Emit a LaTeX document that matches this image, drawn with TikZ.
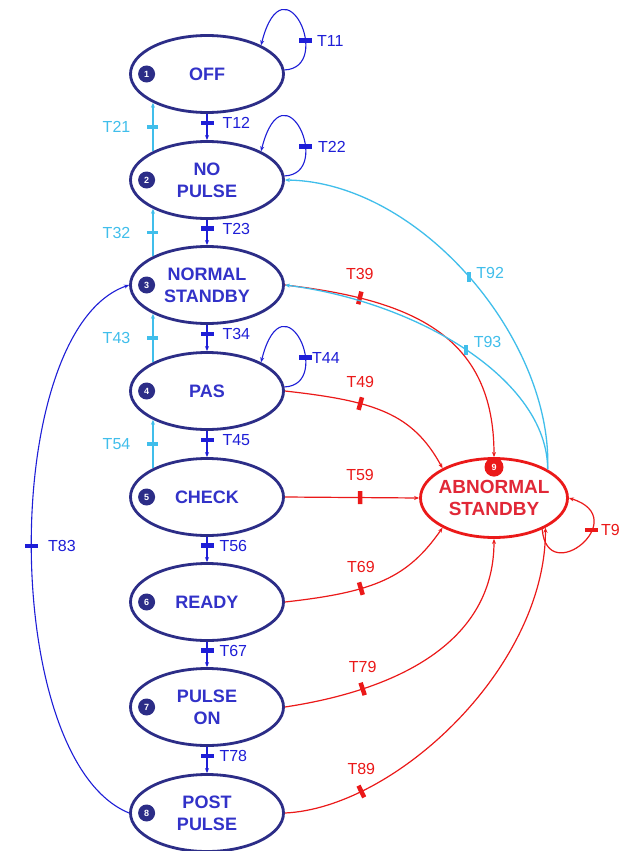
\documentclass[tikz,border=0pt]{standalone}
\usepackage{fontspec}
\setmainfont{Liberation Sans}
\usetikzlibrary{arrows.meta,positioning,shapes.geometric}

\definecolor{navy}{RGB}{44,45,135}
\definecolor{stxt}{RGB}{50,50,200}
\definecolor{tblue}{RGB}{30,30,215}
\definecolor{tcyan}{RGB}{64,190,235}
\definecolor{tred}{RGB}{235,25,25}
\definecolor{atxt}{RGB}{225,40,55}

\begin{document}
\begin{tikzpicture}[
    x=1pt, y=1pt,
    state/.style={draw=navy, ellipse, line width=2.8pt, fill=white, minimum width=153pt, minimum height=77pt,
      inner sep=-12pt, align=center, text=stxt, font=\fontsize{18}{22}\selectfont\bfseries},
    fault/.style={state, draw=tred, text=atxt, minimum width=147pt, minimum height=79pt, font=\fontsize{19}{22}\selectfont\bfseries},
    num/.style={circle, fill=navy, text=white, minimum size=17pt, inner sep=0pt, font=\fontsize{9}{9}\selectfont\bfseries},
    fwd/.style={-{Stealth[length=5pt,width=4pt]}, tblue, line width=1.1pt},
    back/.style={-{Stealth[length=5pt,width=4pt]}, tcyan, line width=1.3pt},
    err/.style={-{Stealth[length=5pt,width=4pt]}, tred, line width=1.2pt},
    hbar/.style={minimum width=13pt, minimum height=4.5pt, inner sep=0pt},
    vbar/.style={minimum width=4.5pt, minimum height=13pt, inner sep=0pt},
    btick/.style={hbar, fill=tblue},
    ctick/.style={hbar, fill=tcyan, minimum width=11pt, minimum height=3.5pt},
    dtick/.style={vbar, fill=tcyan, minimum width=4pt, minimum height=10pt},
    rtick/.style={vbar, sloped, fill=tred},
    blab/.style={text=tblue, inner sep=0pt, font=\fontsize{16}{16}\selectfont},
    clab/.style={text=tcyan, inner sep=0pt, font=\fontsize{16}{16}\selectfont},
    rlab/.style={text=tred, inner sep=0pt, font=\fontsize{16}{16}\selectfont}
  ]
    \fill[white] (0,0) rectangle (623,-851);
    \useasboundingbox (0,0) rectangle (623,-851);

    % states of the main sequence
    \node[state] (off)       at (207,-74)  {OFF};
    \node[state] (nopulse)   at (207,-180) {NO\\PULSE};
    \node[state] (normal)    at (207,-285) {NORMAL\\STANDBY};
    \node[state] (pas)       at (207,-391) {PAS};
    \node[state] (check)     at (207,-497) {CHECK};
    \node[state] (ready)     at (207,-602) {READY};
    \node[state] (pulseon)   at (207,-707) {PULSE\\ON};
    \node[state] (postpulse) at (207,-813) {POST\\PULSE};

    \node[fault] (abnormal)  at (494,-498) {ABNORMAL\\STANDBY};

    \node[num] (n1) at ([xshift=17.5pt]off.west) {1};
    \node[num] (n2) at ([xshift=17.5pt]nopulse.west) {2};
    \node[num] (n3) at ([xshift=17.5pt]normal.west) {3};
    \node[num] (n4) at ([xshift=17.5pt]pas.west) {4};
    \node[num] (n5) at ([xshift=17.5pt]check.west) {5};
    \node[num] (n6) at ([xshift=17.5pt]ready.west) {6};
    \node[num] (n7) at ([xshift=17.5pt]pulseon.west) {7};
    \node[num] (n8) at ([xshift=17.5pt]postpulse.west) {8};
    \node[num, fill=tred, minimum size=19pt] (n9) at ([yshift=-10pt]abnormal.north) {9};

    % forward steps
    \draw[fwd] (off.south) -- node[pos=.35, btick] {} node[pos=.35, right=15pt, blab] {T12} (nopulse.north);
    \draw[fwd] (nopulse.south) -- node[pos=.35, btick] {} node[pos=.35, right=15pt, blab] {T23} (normal.north);
    \draw[fwd] (normal.south) -- node[pos=.35, btick] {} node[pos=.35, right=15pt, blab] {T34} (pas.north);
    \draw[fwd] (pas.south) -- node[pos=.35, btick] {} node[pos=.35, right=15pt, blab] {T45} (check.north);
    \draw[fwd] (check.south) -- node[pos=.35, btick] {} node[pos=.35, right=12pt, blab] {T56} (ready.north);
    \draw[fwd] (ready.south) -- node[pos=.35, btick] {} node[pos=.35, right=12pt, blab] {T67} (pulseon.north);
    \draw[fwd] (pulseon.south) -- node[pos=.35, btick] {} node[pos=.35, right=12pt, blab] {T78} (postpulse.north);

    % steps back
    \draw[back] (nopulse.152) -- node[pos=.5, ctick] {} node[pos=.5, left=22pt, clab] {T21} (off.208);
    \draw[back] (normal.152) -- node[pos=.5, ctick] {} node[pos=.5, left=22pt, clab] {T32} (nopulse.208);
    \draw[back] (pas.152) -- node[pos=.5, ctick] {} node[pos=.5, left=22pt, clab] {T43} (normal.208);
    \draw[back] (check.152) -- node[pos=.5, ctick] {} node[pos=.5, left=22pt, clab] {T54} (pas.208);

    % self loops
    \draw[fwd] (off.3) .. controls +(50,2) and +(23,90) .. node[pos=.35, btick] {} node[pos=.35, right=11pt, blab] {T11} (off.28);
    \draw[fwd] (nopulse.3) .. controls +(50,2) and +(23,90) .. node[pos=.35, btick] {} node[pos=.35, right=12pt, blab] {T22} (nopulse.28);
    \draw[fwd] (pas.3) .. controls +(50,2) and +(23,90) .. node[pos=.35, btick] {} node[pos=.35, right=6pt, blab] {T44} (pas.28);
    \draw[err] (abnormal.-33) .. controls +(5,-60) and +(65,-20) .. node[pos=.65, hbar, fill=tred] {} node[pos=.65, right=9pt, rlab] {T9} (abnormal.east);

    % return from post pulse
    \draw[fwd] (postpulse.west) .. controls +(-130,53) and +(-130,-45) .. node[pos=.5, btick] {} node[pos=.5, right=16pt, blab] {T83} (normal.west);

    % faults
    \draw[err] (normal.east) .. controls +(130,-15) and +(0,120) .. node[pos=.21, rtick] {} node[pos=.21, above=18pt, rlab] {T39} (abnormal.north);
    \draw[err] (pas.east) .. controls +(90,-10) and +(-30,55) .. node[pos=.34, rtick] {} node[pos=.34, above=15pt, rlab] {T49} (abnormal.150);
    \draw[err] (check.east) -- node[pos=.56, rtick] {} node[pos=.56, above=16pt, rlab] {T59} (abnormal.west);
    \draw[err] (ready.east) .. controls +(90,10) and +(-35,-50) .. node[pos=.35, rtick] {} node[pos=.35, above=15pt, rlab] {T69} (abnormal.-150);
    \draw[err] (pulseon.east) .. controls +(100,15) and +(0,-110) .. node[pos=.26, rtick] {} node[pos=.26, above=16pt, rlab] {T79} (abnormal.south);
    \draw[err] (postpulse.east) .. controls +(110,5) and +(0,-140) .. node[pos=.22, rtick] {} node[pos=.22, above=16pt, rlab] {T89} (abnormal.-30);

    % recovery
    \draw[back] (abnormal.28) .. controls +(5,130) and +(135,-2) .. node[pos=.5, dtick] {} node[pos=.5, right=7pt, yshift=4pt, clab] {T92} (nopulse.east);
    \draw[back] (abnormal.28) .. controls +(0,90) and +(133,-17) .. node[pos=.5, dtick] {} node[pos=.5, right=7pt, yshift=8pt, clab] {T93} (normal.east);
  \end{tikzpicture}
\end{document}
